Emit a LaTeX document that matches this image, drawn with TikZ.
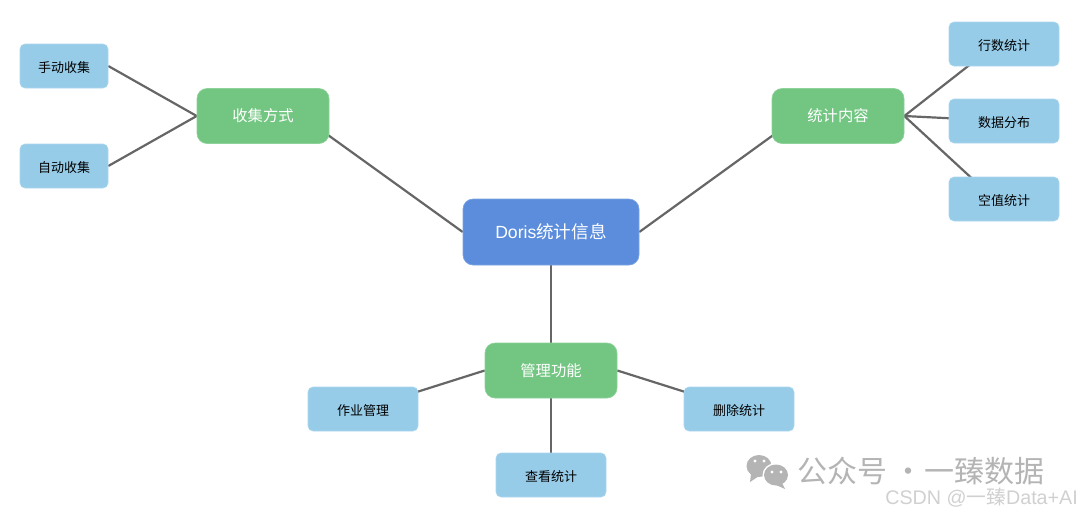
\documentclass[tikz,border=0pt]{standalone}
\usepackage{fontspec}
\setmainfont{Liberation Sans}
\newfontfamily\cjk{Noto Sans CJK SC}
\usepackage{xcolor}
\usetikzlibrary{positioning,calc}
\pgfdeclarelayer{bg}
\pgfsetlayers{bg,main}
\definecolor{rootblue}{HTML}{5B8DDC}
\definecolor{midgreen}{HTML}{72C681}
\definecolor{leafblue}{HTML}{97CCE9}
\definecolor{linkgray}{HTML}{666666}
\definecolor{markgray}{HTML}{B4B4B4}
\definecolor{csdngray}{HTML}{D0D0D0}
\tikzset{
  rootnode/.style = {draw = rootblue!80!white, line width = .6pt, fill = rootblue, rounded corners = 10pt, text = white, minimum width = 176pt, minimum height = 66pt, font = \fontsize{17.6}{20}\selectfont},
  midnode/.style = {draw = midgreen!80!white, line width = .6pt, fill = midgreen, rounded corners = 10pt, text = white, minimum width = 132pt, minimum height = 55pt, font = \cjk\fontsize{15.3}{18}\selectfont},
  leafnode/.style = {draw = leafblue!80!white, line width = .6pt, fill = leafblue, rounded corners = 5pt, text = black, minimum width = 110pt, minimum height = 44pt, text height = 12pt, text depth = 0pt, font = \cjk\fontsize{13}{16}\selectfont},
  link/.style = {draw = linkgray, line width = 2.2pt}
}
\begin{document}
\begin{tikzpicture}[x = 1pt, y = -1pt]
\useasboundingbox (0,0) rectangle (1080,515);
\node[rootnode] (root) at (551,232) {Doris{\cjk 统计信息}};
\node[midnode] (collect) at (263,116) {收集方式};
\node[midnode] (stat) at (838,116) {统计内容};
\node[midnode] (manage) at (551,370.5) {管理功能};
\node[leafnode, minimum width = 88pt] (manual) at (64,66) {手动收集};
\node[leafnode, minimum width = 88pt] (auto) at (64,166) {自动收集};
\node[leafnode] (rows) at (1004,44) {行数统计};
\node[leafnode] (dist) at (1004,121) {数据分布};
\node[leafnode] (nulls) at (1004,199) {空值统计};
\node[leafnode] (job) at (363,409) {作业管理};
\node[leafnode] (view) at (551,475) {查看统计};
\node[leafnode] (del) at (739,409) {删除统计};
\begin{pgfonlayer}{bg}
\draw[link] (root.west) -- ($(root.west)!.9!(collect.north)$);
\draw[link] (root.east) -- ($(root.east)!.9!(stat.north)$);
\draw[link] (root.south) -- (manage.north);
\draw[link] (collect.west) -- (manual.east);
\draw[link] (collect.west) -- (auto.east);
\draw[link] (stat.east) -- ([yshift = 6pt]rows.center);
\draw[link] (stat.east) -- (dist.center);
\draw[link] (stat.east) -- ([yshift = -9pt]nulls.center);
\draw[link] (manage.west) -- (job.center);
\draw[link] (manage.south) -- (view.north);
\draw[link] (manage.east) -- (del.center);
\end{pgfonlayer}
% watermark
\fill[markgray] (759,466) ellipse (12.5 and 11);
\fill[markgray] (751,474) -- (750,482) -- (759,476) -- cycle;
\fill[white] (776,475) ellipse (13.5 and 12);
\fill[markgray] (776,475) ellipse (12 and 10.5);
\fill[markgray] (782,483) -- (785,489) -- (776,485) -- cycle;
\foreach \eyex/\eyey in {755/461, 764/461, 772/472, 781/472}
  \fill[white] (\eyex,\eyey) circle (1.7);
\node[anchor = west, inner sep = 0pt, text = markgray, font = \cjk\fontsize{30}{34}\selectfont] (mark) at (797,471) {公众号 ·\hspace{-6pt} 一臻数据};
\node[anchor = east, inner sep = 0pt, text = csdngray, font = \fontsize{19.7}{22}\selectfont] (csdn) at (1078,498) {CSDN @{\cjk 一臻}Data+AI};
\end{tikzpicture}
\end{document}
